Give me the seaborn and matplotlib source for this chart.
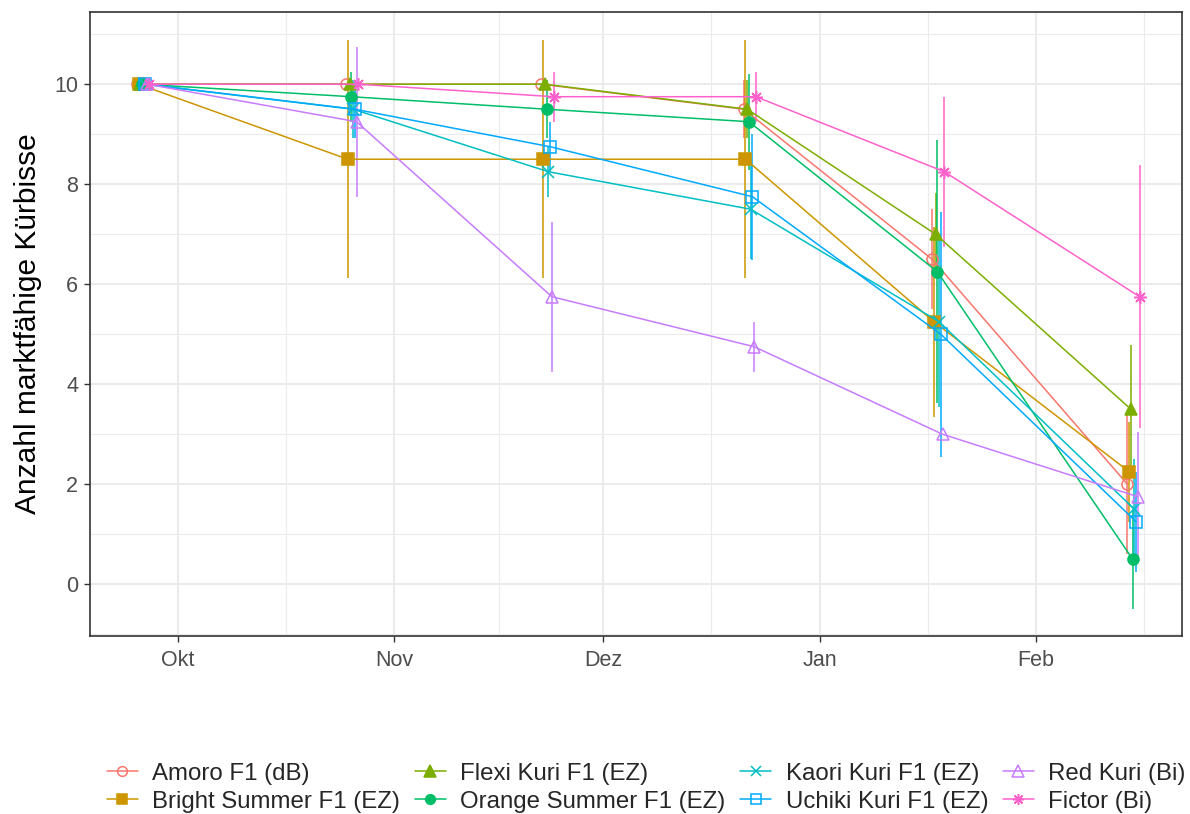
import matplotlib
matplotlib.use("Agg")
import matplotlib.pyplot as plt
import matplotlib.dates as mdates
from matplotlib.lines import Line2D
import seaborn as sns
import pandas as pd
import numpy as np

# ---------------- data ----------------
dates = ["2022-09-26", "2022-10-26", "2022-11-23", "2022-12-22", "2023-01-18", "2023-02-15"]
varieties = ["Amoro F1 (dB)", "Bright Summer F1 (EZ)", "Flexi Kuri F1 (EZ)", "Orange Summer F1 (EZ)",
             "Kaori Kuri F1 (EZ)", "Uchiki Kuri F1 (EZ)", "Red Kuri (Bi)", "Fictor (Bi)"]
amoro_mean = [10, 10, 10, 9.5, 6.5, 2.0]
amoro_sd = [0, 0, 0, 0.58, 1.0, 1.4]
bright_mean = [10, 8.5, 8.5, 8.5, 5.25, 2.25]
bright_sd = [0, 2.38, 2.38, 2.38, 1.9, 1.0]
flexi_mean = [10, 10, 10, 9.5, 7.0, 3.5]
flexi_sd = [0, 0, 0, 0.58, 0.82, 1.29]
orange_mean = [10, 9.75, 9.5, 9.25, 6.25, 0.5]
orange_sd = [0, 0.5, 0.58, 0.96, 2.63, 1.0]
kaori_mean = [10, 9.5, 8.25, 7.5, 5.25, 1.5]
kaori_sd = [0, 0.58, 0.5, 1.0, 1.7, 1.0]
uchiki_mean = [10, 9.5, 8.75, 7.75, 5.0, 1.25]
uchiki_sd = [0, 0.58, 0.5, 1.26, 2.45, 1.0]
redkuri_mean = [10, 9.25, 5.75, 4.75, 3.0, 1.75]
redkuri_sd = [0, 1.5, 1.5, 0.5, 0.0, 1.3]
fictor_mean = [10, 10, 9.75, 9.75, 8.25, 5.75]
fictor_sd = [0, 0, 0.5, 0.5, 1.5, 2.63]
month_labels = ["Okt", "Nov", "Dez", "Jan", "Feb"]
month_ticks = ["2022-10-01", "2022-11-01", "2022-12-01", "2023-01-01", "2023-02-01"]
y_ticks = [0, 2, 4, 6, 8, 10]

means = [amoro_mean, bright_mean, flexi_mean, orange_mean, kaori_mean, uchiki_mean, redkuri_mean, fictor_mean]
sds = [amoro_sd, bright_sd, flexi_sd, orange_sd, kaori_sd, uchiki_sd, redkuri_sd, fictor_sd]

# ---------------- styles ----------------
colors = ["#F8766D", "#CD9600", "#7CAE00", "#00BE67", "#00BFC4", "#00A9FF", "#C77CFF", "#FF61CC"]
markers = ["o", "s", "^", "o", "x", "s", "^", (8, 2, 0)]
filled = [False, True, True, True, True, False, False, True]
msizes = [8, 8, 9, 8, 8, 8, 9, 9]

rows = []
for i, v in enumerate(varieties):
    for d, m, s in zip(dates, means[i], sds[i]):
        rows.append({"Datum": pd.Timestamp(d), "Sorte": v, "Mittel": m, "SD": s, "idx": i})
df = pd.DataFrame(rows)
# small dodge between varieties
df["Datum_d"] = df["Datum"] + pd.to_timedelta((df["idx"] - 3.5) * 0.25, unit="D")

sns.set_theme(style="white")
plt.rcParams["font.family"] = ["Liberation Sans", "DejaVu Sans"]

fig = plt.figure(figsize=(11.9, 8.14), dpi=100)
ax = fig.add_axes([0.0756, 0.219, 0.918, 0.766])

for i, v in enumerate(varieties):
    sub = df[df["Sorte"] == v]
    c = colors[i]
    ax.errorbar(sub["Datum_d"], sub["Mittel"], yerr=sub["SD"], fmt="none", ecolor=c,
                elinewidth=1.1, capsize=0, zorder=2 + i * 0.01)
    sns.lineplot(data=sub, x="Datum_d", y="Mittel", ax=ax, color=c, lw=1.1,
                 marker=markers[i], markersize=msizes[i],
                 markerfacecolor=(c if filled[i] else "none"),
                 markeredgecolor=c, markeredgewidth=1.1, legend=False, zorder=3 + i * 0.01)

# axes limits
ax.set_xlim(pd.Timestamp("2022-09-18 10:00"), pd.Timestamp("2023-02-22"))
ax.set_ylim(-1.03, 11.44)

# ticks
ax.set_xticks([mdates.date2num(pd.Timestamp(t)) for t in month_ticks])
ax.set_xticklabels(month_labels)
ax.set_yticks(y_ticks)
ax.set_yticklabels([str(t) for t in y_ticks])
major_x = [pd.Timestamp(t) for t in month_ticks]
minor_x = []
for a, b in zip(major_x[:-1], major_x[1:]):
    minor_x.append(a + (b - a) / 2)
minor_x.append(major_x[-1] + (major_x[-1] - major_x[-2]) / 2)
ax.set_xticks([mdates.date2num(t) for t in minor_x], minor=True)
ax.set_yticks([-1, 1, 3, 5, 7, 9, 11], minor=True)

ax.grid(which="major", color="#EBEBEB", lw=1.5)
ax.grid(which="minor", color="#EBEBEB", lw=0.8)
ax.set_axisbelow(True)
ax.tick_params(which="major", direction="out", length=4.5, width=1.0, color="#333333",
               labelcolor="#4D4D4D", labelsize=15.5, pad=4, bottom=True, left=True)
ax.tick_params(axis="x", which="major", pad=6)
ax.tick_params(which="minor", length=0)
for sp in ax.spines.values():
    sp.set_color("#333333")
    sp.set_linewidth(1.2)

ax.set_xlabel("")
ax.set_ylabel("Anzahl marktfähige Kürbisse", fontsize=21.5, color="black", labelpad=9)

handles = []
for i, v in enumerate(varieties):
    c = colors[i]
    handles.append(Line2D([0], [0], color=c, lw=1.1, marker=markers[i], markersize=msizes[i] - 1,
                          markerfacecolor=(c if filled[i] else "none"), markeredgecolor=c,
                          markeredgewidth=1.1, label=v))
fig.legend(handles=handles, loc="lower center", bbox_to_anchor=(0.543, -0.025), ncol=4,
           frameon=False, fontsize=17.3, handlelength=1.3, handletextpad=0.6,
           columnspacing=0.6, labelspacing=0.25)

fig.savefig("out.png", dpi=100, facecolor="white")
